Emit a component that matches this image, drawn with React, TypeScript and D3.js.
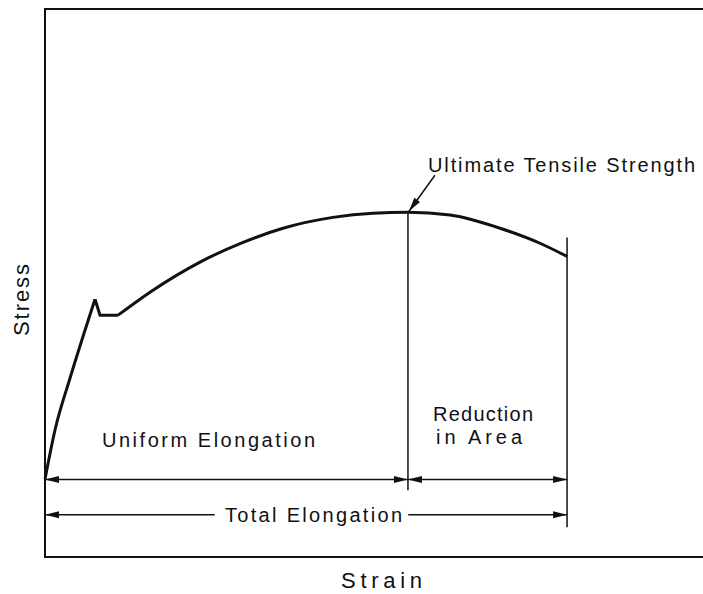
import React from 'react';
import * as d3 from 'd3';

// stress-strain curve (arbitrary units)
const riseStrain = [0, 0.76, 1.9, 3.04, 3.8];
const riseStress = [0, 10.5, 21.5, 31.7, 38.3];
const yieldStrain = [3.8, 4.18, 5.55];
const yieldStress = [38.3, 34.9, 34.9];
const plasticStrain = [5.55, 7.98, 11.78, 15.05, 18.09, 21.88, 24.92, 27.58, 30.78, 34.57, 37.61, 39.67];
const plasticStress = [34.9, 39.8, 46.2, 50.4, 53.4, 55.7, 56.6, 56.8, 56.2, 53.4, 50.2, 47.4];

const utsStrain = 27.58;
const fractureStrain = 39.67;
const uniformLevel = 0;
const totalLevel = -7.5;
const totalGap = [12.9, 27.6];

const W = 703;
const H = 594;
const FONT = '"Liberation Sans", Arial, sans-serif';

const x = d3.scaleLinear().domain([0, 50]).range([45, 703]);
const y = d3.scaleLinear().domain([-16.5, 100]).range([557, 9]);

const line = d3.line<[number, number]>().x(d => x(d[0])).y(d => y(d[1]));
const smooth = d3.line<[number, number]>().x(d => x(d[0])).y(d => y(d[1])).curve(d3.curveMonotoneX);

const pairs = (a: number[], b: number[]) => a.map((v, i) => [v, b[i]] as [number, number]);

function head(tx: number, ty: number, fx: number, fy: number, len = 14, half = 3.5) {
    const a = Math.atan2(ty - fy, tx - fx);
    const bx = tx - len * Math.cos(a);
    const by = ty - len * Math.sin(a);
    const px = -Math.sin(a) * half;
    const py = Math.cos(a) * half;
    return `M${tx},${ty}L${bx + px},${by + py}L${bx - px},${by - py}Z`;
}

const Arrow = ({ x1, y1, x2, y2, start = false, end = true }: any) => (
    <g>
        <line x1={x1} y1={y1} x2={x2} y2={y2} stroke="#111" strokeWidth={1.5} />
        {end && <path d={head(x2, y2, x1, y1)} fill="#111" />}
        {start && <path d={head(x1, y1, x2, y2)} fill="#111" />}
    </g>
);

export default function App() {
    const utsStress = d3.max(plasticStress) as number;
    const endStress = plasticStress[plasticStress.length - 1];
    const uy = y(uniformLevel);
    const ty = y(totalLevel);

    return (
        <svg width={W} height={H} style={{ position: 'absolute', left: 0, top: 0, background: '#fff' }}>
            {/* frame: left, top, bottom */}
            <path d={`M${W},${y(100)}H${x(0)}V${y(-16.5)}H${W}`} fill="none" stroke="#111" strokeWidth={2} />

            {/* curve */}
            <path d={smooth(pairs(riseStrain, riseStress)) as string} fill="none" stroke="#111" strokeWidth={3} />
            <path d={line(pairs(yieldStrain, yieldStress)) as string} fill="none" stroke="#111" strokeWidth={3} strokeLinejoin="miter" />
            <path d={smooth(pairs(plasticStrain, plasticStress)) as string} fill="none" stroke="#111" strokeWidth={3} />

            {/* verticals */}
            <line x1={x(utsStrain)} x2={x(utsStrain)} y1={y(utsStress)} y2={y(-2.3)} stroke="#111" strokeWidth={1.5} />
            <line x1={x(fractureStrain)} x2={x(fractureStrain)} y1={y(endStress + 4)} y2={y(-10.2)} stroke="#111" strokeWidth={1.5} />

            {/* uniform elongation + reduction in area */}
            <Arrow x1={x(0)} y1={uy} x2={x(utsStrain)} y2={uy} start end />
            <Arrow x1={x(utsStrain)} y1={uy} x2={x(fractureStrain)} y2={uy} start end />

            {/* total elongation */}
            <Arrow x1={x(totalGap[0])} y1={ty} x2={x(0)} y2={ty} />
            <Arrow x1={x(totalGap[1])} y1={ty} x2={x(fractureStrain)} y2={ty} />

            {/* UTS pointer */}
            <Arrow x1={x(utsStrain) + 27} y1={y(utsStress) - 37} x2={x(utsStrain) + 1} y2={y(utsStress) - 1} />

            <g fontFamily={FONT} fill="#111" fontSize={20}>
                <text x={428} y={172} textLength={267} lengthAdjust="spacing">Ultimate Tensile Strength</text>
                <text x={102} y={447} textLength={213} lengthAdjust="spacing">Uniform Elongation</text>
                <text x={433} y={421} textLength={100} lengthAdjust="spacing">Reduction</text>
                <text x={436} y={444} textLength={86} lengthAdjust="spacing">in Area</text>
                <text x={225} y={522} textLength={177} lengthAdjust="spacing">Total Elongation</text>
                <text x={341} y={588} fontSize={22} textLength={81} lengthAdjust="spacing">Strain</text>
                <text transform="translate(29,336) rotate(-90)" fontSize={22} textLength={72} lengthAdjust="spacing">Stress</text>
            </g>
        </svg>
    );
}
